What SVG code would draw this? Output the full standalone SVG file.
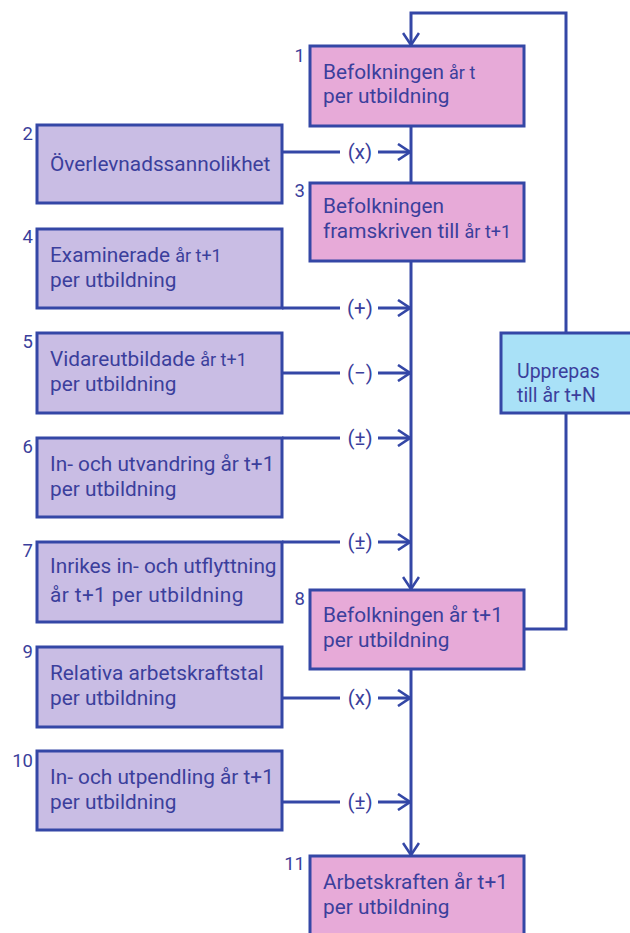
<svg xmlns="http://www.w3.org/2000/svg" width="630" height="933" viewBox="0 0 630 933">
<defs>
<style>
.pk{fill:#E7AAD8;stroke:#3447A6;stroke-width:3}
.pu{fill:#C9BDE4;stroke:#3447A6;stroke-width:3}
.cy{fill:#A9E1F7;stroke:#3447A6;stroke-width:3}
.t{font-family:Roboto,"Liberation Sans",sans-serif;font-size:20.8px;fill:#3B3F9C}
.s{font-size:18px}
.u{font-size:19.5px}
.n{font-family:Roboto,"Liberation Sans",sans-serif;font-size:18.5px;fill:#3B3F9C;text-anchor:end}
.op{font-family:Roboto,"Liberation Sans",sans-serif;font-size:20.5px;fill:#3B3F9C;text-anchor:middle}
.ln{fill:none;stroke:#3447A6;stroke-width:3}
</style>
<marker id="ah" viewBox="0 0 14 18" refX="13" refY="9" markerWidth="14" markerHeight="18" markerUnits="userSpaceOnUse" orient="auto">
<path d="M1,1 L13,9 L1,17" fill="none" stroke="#3447A6" stroke-width="2.6"/>
</marker>
</defs>

<g id="connectors">
<path class="ln" d="M411,126 V183"/>
<path class="ln" d="M411,261 V589" marker-end="url(#ah)"/>
<path class="ln" d="M411,669 V855" marker-end="url(#ah)"/>
<path class="ln" d="M524,629 H566 V413"/>
<path class="ln" d="M566,333 V13 H411 V45" marker-end="url(#ah)"/>
<path class="ln" d="M282,152 H340 M378,152 H410" marker-end="url(#ah)"/>
<path class="ln" d="M282,308 H340 M378,308 H410" marker-end="url(#ah)"/>
<path class="ln" d="M282,373 H340 M378,373 H410" marker-end="url(#ah)"/>
<path class="ln" d="M282,438 H340 M378,438 H410" marker-end="url(#ah)"/>
<path class="ln" d="M282,542 H340 M378,542 H410" marker-end="url(#ah)"/>
<path class="ln" d="M282,698 H340 M378,698 H410" marker-end="url(#ah)"/>
<path class="ln" d="M282,802 H340 M378,802 H410" marker-end="url(#ah)"/>
<text class="op" x="360" y="159">(x)</text>
<text class="op" x="360" y="315">(+)</text>
<text class="op" x="360" y="380">(−)</text>
<text class="op" x="360" y="445">(±)</text>
<text class="op" x="360" y="549">(±)</text>
<text class="op" x="360" y="705">(x)</text>
<text class="op" x="360" y="809">(±)</text>
</g>

<g id="n1">
<rect class="pk" x="310" y="46" width="214" height="80"/>
<text class="n" x="305" y="62">1</text>
<text class="t" x="323" y="79">Befolkningen <tspan class="s">år t</tspan></text>
<text class="t" x="323" y="103">per utbildning</text>
</g>
<g id="n2">
<rect class="pu" x="37" y="125" width="245" height="78"/>
<text class="n" x="33" y="140">2</text>
<text class="t" x="50" y="171">Överlevnadssannolikhet</text>
</g>
<g id="n3">
<rect class="pk" x="310" y="183" width="214" height="78"/>
<text class="n" x="305" y="197">3</text>
<text class="t" x="323" y="213">Befolkningen</text>
<text class="t" x="323" y="238">framskriven till <tspan class="s">år t+1</tspan></text>
</g>
<g id="n4">
<rect class="pu" x="37" y="229" width="245" height="79"/>
<text class="n" x="33" y="243">4</text>
<text class="t" x="50" y="262">Examinerade <tspan class="s">år t+1</tspan></text>
<text class="t" x="50" y="287">per utbildning</text>
</g>
<g id="n5">
<rect class="pu" x="37" y="333" width="245" height="80"/>
<text class="n" x="33" y="348">5</text>
<text class="t" x="50" y="366">Vidareutbildade <tspan class="s">år t+1</tspan></text>
<text class="t" x="50" y="391">per utbildning</text>
</g>
<g id="n6">
<rect class="pu" x="37" y="438" width="245" height="79"/>
<text class="n" x="33" y="453">6</text>
<text class="t" x="50" y="471">In- och utvandring år t+1</text>
<text class="t" x="50" y="496">per utbildning</text>
</g>
<g id="n7">
<rect class="pu" x="37" y="542" width="245" height="80"/>
<text class="n" x="33" y="557">7</text>
<text class="t" x="50" y="573">Inrikes in- och utflyttning</text>
<text class="t" x="50" y="602" font-size="19.5" letter-spacing="0.4">år t+1 per utbildning</text>
</g>
<g id="n8">
<rect class="pk" x="310" y="590" width="214" height="79"/>
<text class="n" x="305" y="605">8</text>
<text class="t" x="323" y="622">Befolkningen år t+1</text>
<text class="t" x="323" y="647">per utbildning</text>
</g>
<g id="n9">
<rect class="pu" x="37" y="647" width="245" height="80"/>
<text class="n" x="33" y="658">9</text>
<text class="t" x="50" y="680">Relativa arbetskraftstal</text>
<text class="t" x="50" y="705">per utbildning</text>
</g>
<g id="n10">
<rect class="pu" x="37" y="751" width="245" height="79"/>
<text class="n" x="33" y="767">10</text>
<text class="t" x="50" y="784">In- och utpendling år t+1</text>
<text class="t" x="50" y="809">per utbildning</text>
</g>
<g id="n11">
<rect class="pk" x="310" y="856" width="214" height="90"/>
<text class="n" x="305" y="870">11</text>
<text class="t" x="323" y="889">Arbetskraften år t+1</text>
<text class="t" x="323" y="914">per utbildning</text>
</g>
<g id="loop">
<rect class="cy" x="501" y="333" width="140" height="80"/>
<text class="t u" x="517" y="378">Upprepas</text>
<text class="t u" x="517" y="402">till år t+N</text>
</g>
</svg>
